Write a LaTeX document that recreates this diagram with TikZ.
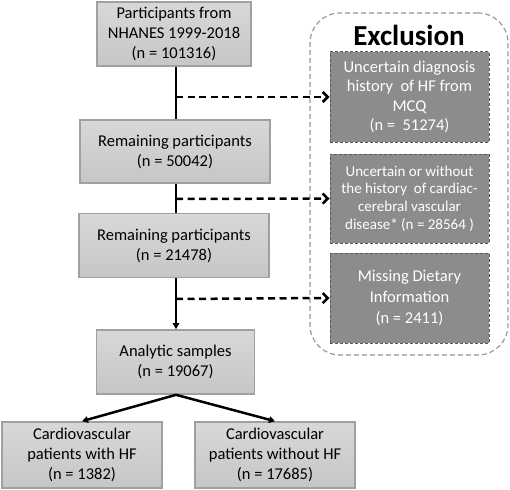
\documentclass[tikz,border=0pt]{standalone}
\usepackage{fontspec}
\setmainfont{Carlito}
\usetikzlibrary{arrows.meta}
\definecolor{boxtop}{HTML}{D8D8D8}
\definecolor{boxbot}{HTML}{C6C6C6}
\definecolor{boxline}{HTML}{A0A0A0}
\definecolor{exfill}{HTML}{8C8C8C}
\definecolor{exline}{HTML}{5A5A5A}
\definecolor{outline}{HTML}{999999}
\tikzset{
  mainbox/.style={draw=boxline, line width=1.6pt, top color=boxtop, bottom color=boxbot,
    align=center, inner sep=0pt, font=\fontsize{16.5}{20}\selectfont},
  exbox/.style={draw=exline, line width=1pt, dash pattern=on 3pt off 2pt, fill=exfill,
    text=white, align=center, inner sep=0pt, minimum width=159pt},
  flow/.style={line width=2.5pt, black},
  flowarrow/.style={flow, -{Triangle[length=6pt,width=6.5pt]}},
  branch/.style={line width=2.5pt, dash pattern=on 7pt off 4.5pt, -{Straight Barb[length=5pt,width=10pt,line width=2.5pt]}},
}
\begin{document}
\begin{tikzpicture}[x=1pt,y=-1pt]
\useasboundingbox (0,0) rectangle (510,489);
% outer exclusion frame
\node[draw=outline, line width=1.2pt, dash pattern=on 5pt off 3pt, rounded corners=30pt,
  minimum width=198pt, minimum height=342pt, inner sep=0pt] (frame) at (409,184) {};
\node[font=\fontsize{29}{32}\selectfont\bfseries] (title) at (409,35) {Exclusion};
% main column
\node[mainbox, minimum width=154pt, minimum height=64pt] (b1) at (174,34)
  {Participants from\\NHANES 1999-2018\\(n = 101316)};
\node[mainbox, minimum width=190pt, minimum height=63pt] (b2) at (175,151.5)
  {Remaining participants\\(n = 50042)};
\node[mainbox, minimum width=190pt, minimum height=64pt] (b3) at (174,245.5)
  {Remaining participants\\(n = 21478)};
\node[mainbox, minimum width=158pt, minimum height=64pt] (b4) at (175.5,362)
  {Analytic samples\\(n = 19067)};
\node[mainbox, minimum width=160pt, minimum height=66pt] (b5) at (82,455)
  {Cardiovascular\\patients with HF\\(n = 1382)};
\node[mainbox, minimum width=160pt, minimum height=66pt] (b6) at (275,455)
  {Cardiovascular\\patients without HF\\(n = 17685)};
% exclusion boxes
\node[exbox, minimum height=90pt, font=\fontsize{16.5}{19.5}\selectfont] (e1) at (409.5,97)
  {Uncertain diagnosis\\history\ \ of HF from\\MCQ\\(n =\ \ 51274)};
\node[exbox, minimum height=89pt, font=\fontsize{15}{17.7}\selectfont] (e2) at (409.5,198.5)
  {Uncertain or without\\the history\ \ of cardiac-\\cerebral vascular\\disease* (n = 28564 )};
\node[exbox, minimum height=90pt, font=\fontsize{16.5}{21}\selectfont] (e3) at (409.5,298)
  {Missing Dietary\\Information\\(n = 2411)};
% junctions on the main line
\coordinate (j1) at (176,97);
\coordinate (j2) at (176,199);
\coordinate (j3) at (176,299);
% connectors
\draw[flow] (b1.south -| j1) -- (b2.north -| j1);
\draw[flow] (b2.south -| j1) -- (b3.north -| j1);
\draw[flowarrow] (b3.south -| j1) -- (b4.north -| j1);
\draw[flowarrow] (b4.south -| j1) -- (b5.north);
\draw[flowarrow] (b4.south -| j1) -- (b6.north);
\draw[branch] (j1) -- (e1.west);
\draw[branch] (j2) -- (e2.west);
\draw[branch] (j3) -- (e3.west);
\end{tikzpicture}
\end{document}
